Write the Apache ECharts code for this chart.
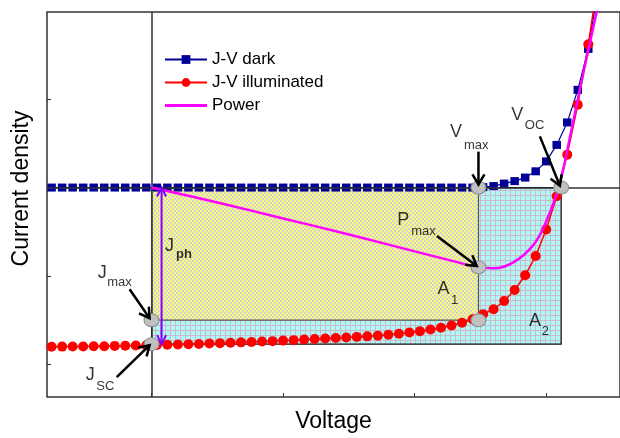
<!DOCTYPE html>
<html><head><meta charset="utf-8">
<script src="https://cdn.jsdelivr.net/npm/echarts@6/dist/echarts.min.js"></script>
<style>html,body{margin:0;padding:0;background:#fff}#c{width:620px;height:438px}</style>
</head><body><div id="c"></div>
<script>
// ---------- data ----------
const voltage = [-0.76,-0.68,-0.60,-0.52,-0.44,-0.36,-0.28,-0.20,-0.12,-0.04,0.04,0.12,0.20,0.28,0.36,0.44,0.52,0.60,0.68,0.76,0.84,0.92,1.00,1.08,1.16,1.24,1.32,1.40,1.48,1.56,1.64,1.72,1.80,1.88,1.96,2.04,2.12,2.20,2.28,2.36,2.44,2.52,2.60,2.68,2.76,2.84,2.92,3.00,3.08,3.16,3.24,3.32,3.40];
const darkJ = [0,0,0,0,0,0,0,0,0,0,0,0,0,0,0,0,0,0,0,0,0,0,0,0,0,0,0,0,0,0,0,0,0,0,0,0,0,0,0,0,0,
  0.005,0.017,0.045,0.073,0.113,0.184,0.296,0.483,0.738,1.107,1.571,2.30];
const illumJ = [-1.803,-1.802,-1.801,-1.800,-1.798,-1.797,-1.794,-1.792,-1.790,-1.788,
  -1.784,-1.782,-1.779,-1.775,-1.772,-1.767,-1.763,-1.758,-1.754,-1.749,
  -1.745,-1.740,-1.734,-1.729,-1.722,-1.716,-1.710,-1.704,-1.698,-1.692,
  -1.686,-1.678,-1.668,-1.657,-1.643,-1.627,-1.609,-1.588,-1.562,-1.531,
  -1.492,-1.435,-1.379,-1.285,-1.160,-0.994,-0.776,-0.475,-0.098,0.373,0.938,1.624,2.407];
const powerV = [0,0.5,1.0,1.5,2.0,2.3,2.45,2.6,2.75,2.9,3.0,3.1,3.2,3.3,3.4];
const powerP = [0,-0.169,-0.350,-0.531,-0.723,-0.836,-0.893,-0.915,-0.847,-0.655,-0.384,0.034,0.712,1.420,2.100];

const Vmax = 2.485, Voc = 3.114, Jmax = -1.503, Jsc = -1.774, Pmax = -0.904;
const keyV = [0, 0, Vmax, Vmax, Vmax, Voc];
const keyJ = [Jmax, Jsc, 0, Pmax, Jmax, 0];

// arrows: [fromV, fromJ, toV, toJ, doubleHeaded]
const blackArrows = [
  [-0.167,-1.153,-0.015,-1.480,0],
  [-0.265,-2.147,-0.015,-1.785,0],
  [2.485,0.407,2.485,0.035,0],
  [2.952,0.580,3.104,0.020,0],
  [2.169,-0.550,2.472,-0.889,0]
];
const jphArrow = [0.076, 0, 0.076, Jsc, 1];

// annotation texts: [text, V, J]
const mainLabels = [['J',-0.371,-0.972],['J',-0.462,-2.130],['J',0.140,-0.667],['V',2.318,0.627],['V',2.784,0.814],['P',1.917,-0.369],['A',2.223,-1.158],['A',2.919,-1.514]];
const subLabels  = [['max',-0.333,-1.085],['SC',-0.417,-2.255],['ph',0.189,-0.765],['max',2.379,0.475],['OC',2.841,0.700],['max',1.977,-0.505],['1',2.280,-1.285],['2',2.970,-1.635]];

const xTicks = [0,1,2,3];
const yTicks = [-2,-1,0,1];
const xRange = [-0.795, 3.561];
const yRange = [-2.373, 1.989];
const seriesNames = ['J-V dark','J-V illuminated','Power'];

// ---------- patterns ----------
function pattern(size, draw){const c=document.createElement('canvas');c.width=c.height=size;const g=c.getContext('2d');draw(g);return {image:c,repeat:'repeat'};}
const yellowPat = pattern(4, g=>{g.fillStyle='#fafa7e';g.fillRect(0,0,4,4);g.fillStyle='#d4d3cc';g.fillRect(0,0,2,2);g.fillRect(2,2,2,2);});
const cyanPat = pattern(5, g=>{g.fillStyle='#b0f8f8';g.fillRect(0,0,5,5);g.fillStyle='#ccbac8';g.fillRect(0,0,5,1);g.fillRect(0,0,1,5);});

const FONT = '"Liberation Sans", Arial, sans-serif';
const ellipse = 'path://M0,5A5,5 0 1,1 10,5A5,5 0 1,1 0,5Z';

function arrowItem(params, api){
  const p0 = api.coord([api.value(0), api.value(1)]);
  const p1 = api.coord([api.value(2), api.value(3)]);
  const both = api.value(4) === 1;
  const color = both ? '#8000ff' : '#000';
  const lw = both ? 2 : 2.5;
  const L = both ? 9 : 10, W = both ? 4.5 : 6;
  function head(a, b){
    const dx=b[0]-a[0], dy=b[1]-a[1], len=Math.hypot(dx,dy), ux=dx/len, uy=dy/len;
    return [[b[0]-ux*L-uy*W, b[1]-uy*L+ux*W], [b[0],b[1]], [b[0]-ux*L+uy*W, b[1]-uy*L-ux*W]];
  }
  const st = {stroke:color, lineWidth:lw, fill:null, lineJoin:'miter', lineCap:'butt'};
  const children = [
    {type:'polyline', shape:{points:[p0,p1]}, style:st},
    {type:'polyline', shape:{points:head(p0,p1)}, style:st}
  ];
  if (both) children.push({type:'polyline', shape:{points:head(p1,p0)}, style:st});
  return {type:'group', children};
}

const chart = echarts.init(document.getElementById('c'), null, {renderer:'canvas'});
chart.setOption({
  animation:false,
  backgroundColor:'#fff',
  grid:{left:47, top:12, right:-2, bottom:40, show:true, borderColor:'#333', borderWidth:1.5, backgroundColor:'transparent'},
  legend:{
    data:[{name:seriesNames[0]},{name:seriesNames[1]},{name:seriesNames[2], icon:'path://M0,0L42,0L42,3L0,3Z'}],
    orient:'vertical', left:159, top:46, itemWidth:42, itemHeight:11, itemGap:6,
    textStyle:{fontFamily:FONT, fontSize:17, color:'#000'}, selectedMode:false
  },
  xAxis:{
    type:'value', min:xRange[0], max:xRange[1],
    name:'Voltage', nameLocation:'middle', nameGap:13,
    nameTextStyle:{fontFamily:FONT, fontSize:23, color:'#000'},
    axisLine:{show:false, onZero:false}, splitLine:{show:false},
    axisLabel:{show:false},
    axisTick:{show:true, inside:true, length:4, customValues:xTicks, lineStyle:{color:'#333', width:1}}
  },
  yAxis:{
    type:'value', min:yRange[0], max:yRange[1],
    name:'Current density', nameLocation:'middle', nameGap:14,
    nameTextStyle:{fontFamily:FONT, fontSize:23, color:'#000', padding:[0,0,0,32]},
    axisLine:{show:false, onZero:false}, splitLine:{show:false},
    axisLabel:{show:false},
    axisTick:{show:true, inside:true, length:4, customValues:yTicks, lineStyle:{color:'#333', width:1}}
  },
  series:[
    {name:'areas', type:'line', data:[], z:1, silent:true,
      markArea:{silent:true, label:{show:false},
        data:[
          [{coord:[0,Jsc], itemStyle:{color:cyanPat, borderColor:'#111', borderWidth:1.2, opacity:1}},{coord:[Voc,0]}],
          [{coord:[0,Jmax], itemStyle:{color:yellowPat, borderColor:'#555', borderWidth:1.2, opacity:1}},{coord:[Vmax,0]}]
        ]}},
    {name:'zero', type:'line', data:[], z:2, silent:true,
      markLine:{silent:true, symbol:['none','none'], label:{show:false},
        lineStyle:{type:'solid', color:'#333', width:1.5},
        data:[{xAxis:0},{yAxis:0}]}},
    {name:seriesNames[0], type:'line', z:3, data:voltage.map((v,i)=>[v,darkJ[i]]),
      symbol:'rect', symbolSize:[8.5,8], showSymbol:true,
      itemStyle:{color:'#000099'}, lineStyle:{color:'#000099', width:1.2}},
    {name:seriesNames[1], type:'line', z:4, data:voltage.map((v,i)=>[v,illumJ[i]]),
      symbol:'circle', symbolSize:10, showSymbol:true,
      itemStyle:{color:'#ff0000'}, lineStyle:{color:'#ff0000', width:1.5}},
    {name:seriesNames[2], type:'line', z:5, smooth:0.4, data:powerV.map((v,i)=>[v,powerP[i]]),
      symbol:'none', showSymbol:false,
      itemStyle:{color:'#ff00ff'}, lineStyle:{color:'#ff00ff', width:2.5}},
    {name:'keys', type:'scatter', z:6, silent:true, data:keyV.map((v,i)=>[v,keyJ[i]]),
      symbol:ellipse, symbolSize:[15,13],
      itemStyle:{color:'#c0c0c0', borderColor:'#8a8a8a', borderWidth:1, opacity:1}},
    {name:'arrows', type:'custom', z:7, silent:true, renderItem:arrowItem,
      data:blackArrows.concat([jphArrow])},
    {name:'mainText', type:'scatter', z:8, silent:true, symbolSize:1, itemStyle:{color:'rgba(0,0,0,0)'},
      data:mainLabels.map(l=>[l[1],l[2],l[0]]),
      label:{show:true, position:[0,0], align:'center', verticalAlign:'middle', formatter:p=>p.data[2],
        fontFamily:FONT, fontSize:18, color:'#000'}},
    {name:'subText', type:'scatter', z:8, silent:true, symbolSize:1, itemStyle:{color:'rgba(0,0,0,0)'},
      data:subLabels.map(l=>[l[1],l[2],l[0]]),
      label:{show:true, position:[0,0], align:'left', verticalAlign:'middle',
        formatter:p=>p.data[2]==='ph' ? '{b|ph}' : p.data[2],
        rich:{b:{fontFamily:FONT, fontSize:13, fontWeight:'bold', color:'#000'}},
        fontFamily:FONT, fontSize:13, color:'#000'}}
  ]
});
</script></body></html>
